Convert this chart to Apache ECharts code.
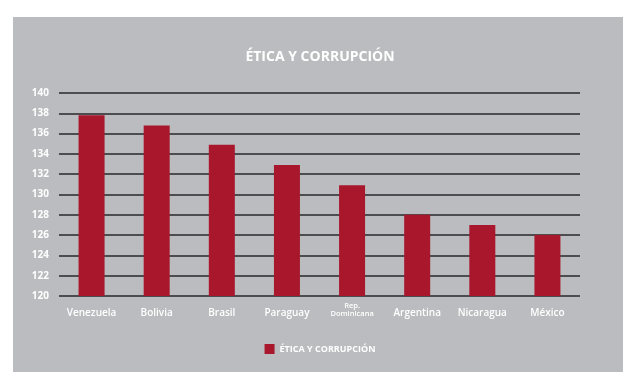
<!DOCTYPE html>
<html><head><meta charset="utf-8">
<script src="https://cdn.jsdelivr.net/npm/echarts@6/dist/echarts.min.js"></script>
<style>html,body{margin:0;padding:0;background:#fff}#c{width:640px;height:391px}</style>
</head><body><div id="c"></div>
<script>
const categories = ['Venezuela','Bolivia','Brasil','Paraguay','Rep.\nDominicana','Argentina','Nicaragua','México'];
const values = [137.8, 136.8, 134.9, 132.9, 130.9, 128.0, 127.0, 126.0];
const seriesName = 'ÉTICA Y CORRUPCIÓN';
const titleText = 'ÉTICA Y CORRUPCIÓN';

const catData = categories.map(function(c){
  return c.indexOf('\n')>=0 ? {value:c, textStyle:{verticalAlign:'middle', padding:[3,0,0,0]}} : c;
});

const chart = echarts.init(document.getElementById('c'), null, {renderer:'canvas'});
chart.setOption({
  animation:false,
  backgroundColor:'#ffffff',
  graphic:[{type:'rect', z:-10, silent:true, shape:{x:13,y:17,width:610,height:355}, style:{fill:'#bbbcbf'}}],
  title:{text:titleText, left:'center', top:45, textStyle:{color:'#ffffff', fontFamily:'Open Sans', fontWeight:'bold', fontSize:14}},
  legend:{data:[seriesName], top:339, left:'center', itemWidth:10, itemHeight:10, icon:'rect', itemGap:11,
    textStyle:{color:'#ffffff', fontFamily:'Open Sans', fontWeight:'bold', fontSize:9}},
  grid:{left:59, right:60, top:93, bottom:95},
  xAxis:{type:'category', data:catData,
    axisLine:{show:false}, axisTick:{show:false},
    axisLabel:{interval:0, color:'#ffffff', fontFamily:'Open Sans', fontWeight:600, fontSize:10, margin:12,
      formatter:function(v){ return v.indexOf('\n')>=0 ? '{s|'+v.replace('\n','}\n{s|')+'}' : v; },
      rich:{s:{fontSize:7.5, fontWeight:600, color:'#ffffff', fontFamily:'Open Sans', lineHeight:8}}}},
  yAxis:{type:'value', min:120, max:140, interval:2,
    axisLine:{show:false}, axisTick:{show:false},
    axisLabel:{color:'#ffffff', fontFamily:'Open Sans', fontWeight:'bold', fontSize:10, margin:10},
    splitLine:{lineStyle:{color:'#4d4d4f', width:2}}},
  series:[{name:seriesName, type:'bar', data:values, barWidth:26, itemStyle:{color:'#a8172b'}, z:3}]
});
</script></body></html>
